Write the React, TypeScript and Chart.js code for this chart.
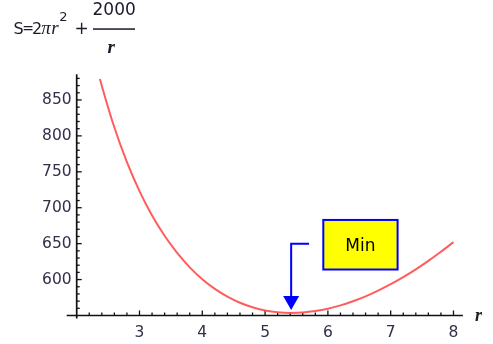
import React, { useEffect, useRef } from "react";
import { Chart, registerables } from "chart.js";

Chart.register(...registerables);

// r values and surface area S
const rValues = [
  2.37, 2.4, 2.6, 2.8, 3.0, 3.2, 3.4, 3.6, 3.8, 4.0, 4.2, 4.4, 4.6, 4.8, 5.0,
  5.2, 5.4, 5.6, 5.8, 6.0, 6.2, 6.4, 6.6, 6.8, 7.0, 7.2, 7.4, 7.6, 7.8, 8.0,
];
const sValues = [
  879.2, 869.5, 811.7, 763.5, 723.2, 689.3, 660.9, 637.0, 617.0, 600.5, 587.0,
  576.2, 567.7, 561.4, 557.1, 554.5, 553.6, 554.2, 556.2, 559.5, 564.1, 569.9,
  576.7, 584.7, 593.6, 603.5, 614.3, 626.1, 638.7, 652.1,
];
const xTickValues = [3, 4, 5, 6, 7, 8];
const yTickValues = [600, 650, 700, 750, 800, 850];
const annotationText = "Min";
const minimumR = [5.415];
const axisLabel = "r";

const X_MIN = 2;
const X_MAX = 8.15;
const Y_MIN = 550;
const Y_MAX = 885.7;

const labelColor = "#30304a";

const overlayPlugin = {
  id: "overlay",
  beforeDatasetsDraw(chart: any) {
    const { ctx } = chart;
    const xs = chart.scales.x;
    const ys = chart.scales.y;
    const X = (v: number) => xs.getPixelForValue(v);
    const Y = (v: number) => ys.getPixelForValue(v);
    const ox = X(X_MIN);
    const oy = Y(Y_MIN);
    ctx.save();
    ctx.strokeStyle = "#111";
    ctx.lineWidth = 1.7;
    ctx.beginPath();
    ctx.moveTo(ox - 10, oy);
    ctx.lineTo(X(X_MAX), oy);
    ctx.stroke();
    ctx.beginPath();
    ctx.moveTo(ox, Y(Y_MAX));
    ctx.lineTo(ox, oy + 3);
    ctx.stroke();
    ctx.lineWidth = 1.3;
    // x ticks (minor every 0.2)
    for (let i = 11; i <= 40; i++) {
      const v = i / 5;
      const major = i % 5 === 0;
      const px = X(v);
      ctx.beginPath();
      ctx.moveTo(px, oy);
      ctx.lineTo(px, oy - (major ? 5 : 3));
      ctx.stroke();
    }
    // y ticks (minor every 10)
    for (let v = 560; v <= 880; v += 10) {
      const major = v % 50 === 0;
      const py = Y(v);
      ctx.beginPath();
      ctx.moveTo(ox, py);
      ctx.lineTo(ox + (major ? 5 : 3), py);
      ctx.stroke();
    }
    ctx.restore();
  },
  afterDraw(chart: any) {
    const { ctx } = chart;
    const xs = chart.scales.x;
    const ys = chart.scales.y;
    const X = (v: number) => xs.getPixelForValue(v);
    const Y = (v: number) => ys.getPixelForValue(v);
    ctx.save();

    // axis label r
    ctx.fillStyle = "#222";
    ctx.font = "italic bold 18px 'Liberation Serif'";
    ctx.textAlign = "left";
    ctx.textBaseline = "alphabetic";
    ctx.fillText(axisLabel, 475, 320.5);

    // arrow
    const ax = X(minimumR[0]);
    const topY = Y(650);
    const tipY = Y(557.6);
    ctx.strokeStyle = "#0000ff";
    ctx.fillStyle = "#0000ff";
    ctx.lineWidth = 2;
    ctx.beginPath();
    ctx.moveTo(X(5.7), topY);
    ctx.lineTo(ax, topY);
    ctx.lineTo(ax, tipY - 12);
    ctx.stroke();
    ctx.beginPath();
    ctx.moveTo(ax - 8, tipY - 14);
    ctx.lineTo(ax + 8, tipY - 14);
    ctx.lineTo(ax, tipY);
    ctx.closePath();
    ctx.fill();

    // box
    const bx0 = X(5.927);
    const bx1 = X(7.11);
    const by0 = Y(683);
    const by1 = Y(614);
    ctx.fillStyle = "#ffff00";
    ctx.fillRect(bx0, by0, bx1 - bx0, by1 - by0);
    ctx.strokeStyle = "#0000ff";
    ctx.lineWidth = 2;
    ctx.strokeRect(bx0, by0, bx1 - bx0, by1 - by0);
    ctx.fillStyle = "#000";
    ctx.font = "17px 'DejaVu Sans'";
    ctx.textAlign = "center";
    ctx.textBaseline = "alphabetic";
    ctx.fillText(annotationText, (bx0 + bx1) / 2, (by0 + by1) / 2 + 6);

    // title formula S = 2πr² + 2000/r
    ctx.fillStyle = "#1a1a28";
    ctx.textAlign = "center";
    ctx.font = "16px 'DejaVu Sans'";
    ctx.fillText("S", 18.5, 34);
    ctx.font = "14px 'DejaVu Sans'";
    ctx.fillText("=", 28, 33);
    ctx.font = "16px 'DejaVu Sans'";
    ctx.fillText("2", 37, 34);
    ctx.font = "italic 19px 'Liberation Serif'";
    ctx.fillText("\u03c0", 46, 34);
    ctx.fillText("r", 55, 34);
    ctx.font = "13px 'DejaVu Sans'";
    ctx.fillText("2", 63.5, 20.5);
    ctx.font = "17px 'DejaVu Sans'";
    ctx.fillText("+", 81.5, 34);
    ctx.textAlign = "left";
    ctx.fillText("2000", 92.5, 14.5);
    ctx.fillRect(93, 28.3, 42, 1.5);
    ctx.font = "italic bold 19px 'Liberation Serif'";
    ctx.fillText("r", 107.5, 53);

    ctx.restore();
  },
};

export default function App() {
  const canvasRef = useRef<HTMLCanvasElement | null>(null);

  useEffect(() => {
    const canvas = canvasRef.current;
    if (!canvas) return;
    const chart = new Chart(canvas, {
      type: "line",
      data: {
        datasets: [
          {
            data: rValues.map((r, i) => ({ x: r, y: sValues[i] })),
            borderColor: "rgba(255,75,75,0.9)",
            borderWidth: 2,
            pointRadius: 0,
            fill: false,
            cubicInterpolationMode: "monotone",
          },
        ],
      },
      options: {
        responsive: false,
        animation: false,
        devicePixelRatio: 1,
        events: [],
        layout: { padding: { left: 0, top: 74.3, right: 30.1, bottom: 0 } },
        plugins: {
          legend: { display: false },
          tooltip: { enabled: false },
          title: { display: false },
        },
        scales: {
          x: {
            type: "linear",
            min: X_MIN,
            max: X_MAX,
            grid: { display: false, drawTicks: false },
            border: { display: false },
            afterBuildTicks: (scale: any) => {
              scale.ticks = xTickValues.map((v) => ({ value: v }));
            },
            afterFit: (scale: any) => {
              scale.height = 28.5;
            },
            ticks: {
              color: labelColor,
              font: { family: "'DejaVu Sans'", size: 15.5 },
              padding: 8,
              maxRotation: 0,
              autoSkip: false,
              callback: (v: any) => String(v),
            },
          },
          y: {
            type: "linear",
            min: Y_MIN,
            max: Y_MAX,
            grid: { display: false, drawTicks: false },
            border: { display: false },
            afterBuildTicks: (scale: any) => {
              scale.ticks = yTickValues.map((v) => ({ value: v }));
            },
            afterFit: (scale: any) => {
              scale.width = 76.7;
            },
            ticks: {
              color: labelColor,
              font: { family: "'DejaVu Sans'", size: 15.5 },
              padding: 5,
              autoSkip: false,
              callback: (v: any) => String(v),
            },
          },
        },
      },
      plugins: [overlayPlugin],
    } as any);
    return () => chart.destroy();
  }, []);

  return (
    <div
      style={{
        position: "fixed",
        left: 0,
        top: 0,
        width: 493,
        height: 344,
        background: "#fff",
      }}
    >
      <canvas ref={canvasRef} width={493} height={344} />
    </div>
  );
}
